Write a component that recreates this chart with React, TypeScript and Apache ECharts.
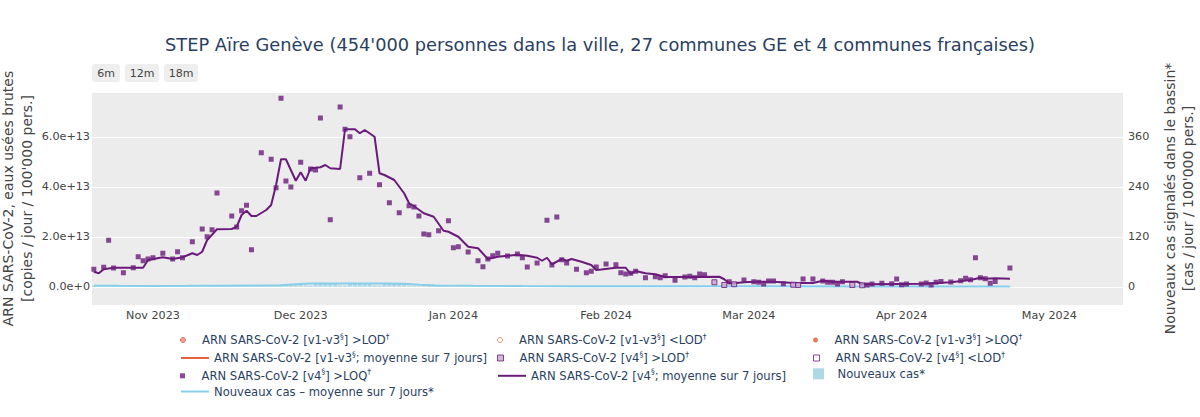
import React, { useEffect, useRef } from 'react';
import * as echarts from 'echarts';

const FONT = 'Verdana, "DejaVu Sans", sans-serif';
const TXT = '#2a3f5f';
const TICK_TXT = '#444';

const TITLE = "STEP Aïre Genève (454'000 personnes dans la ville, 27 communes GE et 4 communes françaises)";
const LEFT_AXIS_TITLE = ['ARN SARS-CoV-2, eaux usées brutes', "[copies / jour / 100'000 pers.]"];
const RIGHT_AXIS_TITLE = ['Nouveaux cas signalés dans le bassin*', "[cas / jour / 100'000 pers.]"];
const RANGE_BUTTONS = ['6m', '12m', '18m'];
const MONTH_NAMES = ['Jan', 'Feb', 'Mar', 'Apr', 'May', 'Jun', 'Jul', 'Aug', 'Sep', 'Oct', 'Nov', 'Dec'];
const MONTH_TICKS = ['2023-11-01', '2023-12-01', '2024-01-01', '2024-02-01', '2024-03-01', '2024-04-01', '2024-05-01'];
const RIGHT_TICKS = [0, 120, 240, 360];
const X_MIN = '2023-10-19T15:00:00';
const X_MAX = '2024-05-15T23:00:00';

// Series names
const N_V13_LOD = 'ARN SARS-CoV-2 [v1-v3§] >LOD†';
const N_V13_BLOD = 'ARN SARS-CoV-2 [v1-v3§] <LOD†';
const N_V13_LOQ = 'ARN SARS-CoV-2 [v1-v3§] >LOQ†';
const N_V13_MEAN = 'ARN SARS-CoV-2 [v1-v3§; moyenne sur 7 jours]';
const N_V4_LOD = 'ARN SARS-CoV-2 [v4§] >LOD†';
const N_V4_BLOD = 'ARN SARS-CoV-2 [v4§] <LOD†';
const N_V4_LOQ = 'ARN SARS-CoV-2 [v4§] >LOQ†';
const N_V4_MEAN = 'ARN SARS-CoV-2 [v4§; moyenne sur 7 jours]';
const N_CASES = 'Nouveaux cas*';
const N_CASES_MEAN = 'Nouveaux cas – moyenne sur 7 jours*';

// v1-v3 series: no data in this period
const v13LodPoints: [number, number][] = [];
const v13BelowLodPoints: [number, number][] = [];
const v13LoqPoints: [number, number][] = [];
const v13MeanPoints: [number, number][] = [];
const v4BelowLodPoints: [number, number][] = [];

// v4 >LOQ samples
const v4LoqDates = [
  '2023-10-20', '2023-10-22', '2023-10-23', '2023-10-24', '2023-10-26', '2023-10-28', '2023-10-29', '2023-10-30', '2023-10-31',
  '2023-11-01', '2023-11-03', '2023-11-05', '2023-11-06', '2023-11-07', '2023-11-09', '2023-11-11', '2023-11-12', '2023-11-13',
  '2023-11-14', '2023-11-17', '2023-11-18', '2023-11-19', '2023-11-20', '2023-11-21', '2023-11-23', '2023-11-25', '2023-11-26',
  '2023-11-27', '2023-11-28', '2023-11-29', '2023-12-01', '2023-12-03', '2023-12-04', '2023-12-05', '2023-12-07', '2023-12-09',
  '2023-12-10', '2023-12-11', '2023-12-13', '2023-12-15', '2023-12-17', '2023-12-19', '2023-12-21', '2023-12-23', '2023-12-24',
  '2023-12-25', '2023-12-26', '2023-12-27', '2023-12-29', '2023-12-31', '2024-01-01', '2024-01-02', '2024-01-04', '2024-01-06',
  '2024-01-07', '2024-01-08', '2024-01-09', '2024-01-10', '2024-01-12', '2024-01-14', '2024-01-15', '2024-01-16', '2024-01-18',
  '2024-01-20', '2024-01-21', '2024-01-22', '2024-01-23', '2024-01-24', '2024-01-26', '2024-01-28', '2024-01-29', '2024-01-30',
  '2024-02-01', '2024-02-03', '2024-02-04', '2024-02-05', '2024-02-06', '2024-02-07', '2024-02-09', '2024-02-11', '2024-02-12',
  '2024-02-13', '2024-02-15', '2024-02-17', '2024-02-18', '2024-02-19', '2024-02-20', '2024-02-21', '2024-02-26', '2024-02-29',
  '2024-03-02', '2024-03-03', '2024-03-04', '2024-03-05', '2024-03-06', '2024-03-08', '2024-03-12', '2024-03-14', '2024-03-16',
  '2024-03-17', '2024-03-18', '2024-03-19', '2024-03-20', '2024-03-25', '2024-03-26', '2024-03-28', '2024-03-30', '2024-03-31',
  '2024-04-01', '2024-04-02', '2024-04-05', '2024-04-06', '2024-04-07', '2024-04-08', '2024-04-09', '2024-04-11', '2024-04-13',
  '2024-04-14', '2024-04-15', '2024-04-16', '2024-04-17', '2024-04-18', '2024-04-19', '2024-04-20', '2024-04-23',
];
const v4LoqValues = [
  7.0e12, 7.8e12, 1.86e13, 7.5e12, 5.6e12, 7.6e12, 1.2e13, 1.04e13, 1.11e13,
  1.16e13, 1.34e13, 1.11e13, 1.4e13, 1.16e13, 1.8e13, 2.31e13, 2.0e13, 2.28e13,
  3.75e13, 2.83e13, 2.39e13, 3.04e13, 3.26e13, 1.48e13, 5.36e13, 5.1e13, 3.96e13,
  7.54e13, 4.23e13, 3.99e13, 4.98e13, 4.71e13, 4.67e13, 6.75e13, 2.68e13, 7.19e13,
  6.3e13, 6.0e13, 4.36e13, 4.54e13, 4.08e13, 3.36e13, 2.96e13, 3.24e13, 3.19e13,
  2.83e13, 2.11e13, 2.08e13, 2.24e13, 2.64e13, 1.56e13, 1.6e13, 1.39e13, 1.04e13,
  8.0e12, 1.11e13, 1.24e13, 1.34e13, 1.23e13, 1.31e13, 1.16e13, 7.9e12, 9.5e12,
  2.66e13, 8.7e12, 2.79e13, 1.08e13, 9.5e12, 7.0e12, 5.6e12, 6.2e12, 7.9e12,
  9.1e12, 8.8e12, 5.6e12, 5.1e12, 5.4e12, 6.2e12, 3.6e12, 4.0e12, 3.6e12,
  4.4e12, 2.6e12, 3.9e12, 4.2e12, 3.6e12, 5.1e12, 4.8e12, 2.0e12, 2.7e12,
  2.0e12, 1.8e12, 1.1e12, 2.3e12, 2.3e12, 1.2e12, 3.1e12, 3.1e12, 2.3e12,
  1.8e12, 1.8e12, 1.1e12, 2.0e12, 7e11, 1.1e12, 1.4e12, 1.2e12, 3.1e12,
  8e11, 1.1e12, 1.1e12, 1.5e12, 7e11, 1.8e12, 2.1e12, 1.9e12, 2.4e12,
  3.4e12, 2.8e12, 1.16e13, 3.6e12, 3.2e12, 1.4e12, 2.1e12, 7.5e12,
];

// v4 >LOD samples
const v4LodDates = ['2024-02-23', '2024-02-25', '2024-02-27', '2024-03-10', '2024-03-11', '2024-03-22', '2024-03-24'];
const v4LodValues = [1.8e12, 7e11, 1.0e12, 8e11, 7e11, 7e11, 6e11];

// v4 7-day mean
const v4MeanDates = [
  '2023-10-20', '2023-10-21', '2023-10-22', '2023-10-24', '2023-10-30', '2023-10-31', '2023-11-03', '2023-11-05', '2023-11-07',
  '2023-11-09', '2023-11-10', '2023-11-11', '2023-11-12', '2023-11-14', '2023-11-17', '2023-11-18', '2023-11-19', '2023-11-20',
  '2023-11-21', '2023-11-22', '2023-11-24', '2023-11-25', '2023-11-26', '2023-11-27', '2023-11-28', '2023-11-30', '2023-12-01',
  '2023-12-02', '2023-12-03', '2023-12-05', '2023-12-06', '2023-12-07', '2023-12-09', '2023-12-10', '2023-12-12', '2023-12-13',
  '2023-12-14', '2023-12-16', '2023-12-17', '2023-12-18', '2023-12-20', '2023-12-22', '2023-12-23', '2023-12-24', '2023-12-26',
  '2023-12-28', '2023-12-30', '2023-12-31', '2024-01-02', '2024-01-04', '2024-01-06', '2024-01-08', '2024-01-10', '2024-01-12',
  '2024-01-14', '2024-01-16', '2024-01-18', '2024-01-19', '2024-01-20', '2024-01-21', '2024-01-23', '2024-01-24', '2024-01-25',
  '2024-01-27', '2024-01-29', '2024-01-30', '2024-01-31', '2024-02-03', '2024-02-05', '2024-02-06', '2024-02-07', '2024-02-09',
  '2024-02-11', '2024-02-13', '2024-02-15', '2024-02-24', '2024-02-25', '2024-02-26', '2024-02-27', '2024-02-29', '2024-03-02',
  '2024-03-06', '2024-03-10', '2024-03-14', '2024-03-16', '2024-03-18', '2024-03-23', '2024-03-24', '2024-03-25', '2024-03-31',
  '2024-04-05', '2024-04-11', '2024-04-15', '2024-04-17', '2024-04-18', '2024-04-20', '2024-04-23',
];
const v4MeanValues = [
  6.0e12, 5.4e12, 7.0e12, 7.6e12, 7.6e12, 1.07e13, 1.18e13, 1.11e13, 1.18e13,
  1.34e13, 1.27e13, 1.4e13, 1.87e13, 2.3e13, 2.31e13, 2.4e13, 2.87e13, 3.04e13,
  2.83e13, 2.83e13, 3.07e13, 3.27e13, 4.07e13, 5.1e13, 5.1e13, 4.24e13, 4.58e13,
  4.24e13, 4.74e13, 4.78e13, 4.87e13, 4.74e13, 4.71e13, 6.3e13, 6.3e13, 6.14e13,
  6.27e13, 6.0e13, 4.54e13, 4.47e13, 4.27e13, 3.74e13, 3.34e13, 3.22e13, 2.94e13,
  2.8e13, 2.24e13, 2.2e13, 2.0e13, 1.6e13, 1.54e13, 1.11e13, 1.2e13, 1.24e13,
  1.28e13, 1.24e13, 1.16e13, 1.04e13, 1.16e13, 9.0e12, 1.11e13, 1.04e13, 1.11e13,
  1.0e13, 8.7e12, 6.7e12, 6.9e12, 7.6e12, 7.6e12, 5.1e12, 6.3e12, 5.4e12,
  5.0e12, 3.9e12, 3.9e12, 4.0e12, 3.0e12, 1.4e12, 1.4e12, 1.8e12, 2.0e12,
  2.0e12, 1.5e12, 1.5e12, 2.4e12, 2.0e12, 2.0e12, 1.0e12, 1.0e12, 1.1e12,
  1.2e12, 1.8e12, 2.7e12, 3.6e12, 3.2e12, 3.4e12, 3.2e12,
];

// New cases (daily, from 2023-10-20 to 2024-04-23)
const casesStart = [2023, 9, 20];
const casesValues = [
  2.6, 1.2, 0.8, 3.0, 2.8, 2.4, 2.5,
  2.2, 1.0, 0.7, 2.6, 2.3, 2.0, 2.4,
  2.1, 1.1, 0.8, 2.7, 2.5, 2.3, 2.6,
  2.5, 1.2, 1.0, 3.1, 2.9, 2.7, 2.8,
  3.0, 1.4, 1.1, 3.6, 3.4, 3.2, 3.5,
  3.6, 1.8, 1.5, 4.8, 5.2, 5.8, 6.4,
  7.2, 3.0, 2.6, 8.8, 9.1, 8.6, 8.9,
  8.4, 3.4, 2.9, 9.6, 9.2, 8.8, 8.6,
  8.2, 3.2, 2.8, 9.0, 8.7, 8.4, 8.1,
  7.4, 2.6, 2.1, 1.2, 5.8, 6.2, 5.5,
  4.6, 2.0, 1.3, 0.9, 4.2, 3.6, 3.1,
  2.9, 1.2, 0.9, 3.0, 2.7, 2.4, 2.3,
  2.1, 0.9, 0.7, 2.4, 2.1, 1.9, 1.8,
  1.7, 0.8, 0.6, 2.0, 1.7, 1.5, 1.5,
  1.4, 0.6, 0.5, 1.6, 1.4, 1.3, 1.2,
  1.2, 0.5, 0.4, 1.4, 1.2, 1.1, 1.1,
  1.0, 0.4, 0.4, 1.2, 1.1, 1.0, 0.9,
  0.9, 0.4, 0.3, 1.1, 1.0, 0.9, 0.9,
  0.9, 0.3, 0.3, 1.0, 0.9, 0.8, 0.8,
  0.8, 0.3, 0.3, 1.0, 0.9, 0.8, 0.7,
  0.8, 0.3, 0.2, 0.9, 0.8, 0.8, 0.7,
  0.7, 0.3, 0.2, 0.9, 0.8, 0.7, 0.7,
  0.7, 0.2, 0.2, 0.8, 0.7, 0.7, 0.6,
  0.5, 0.2, 0.2, 0.3, 0.8, 0.7, 0.6,
  0.7, 0.2, 0.2, 0.8, 0.7, 0.6, 0.6,
  0.6, 0.2, 0.2, 0.7, 0.7, 0.6, 0.6,
  0.6, 0.2, 0.2, 0.7, 0.6,
];

// New cases 7-day mean
const casesMeanDates = [
  '2023-10-20', '2023-10-25', '2023-11-01', '2023-11-08', '2023-11-15', '2023-11-22', '2023-11-27', '2023-11-30',
  '2023-12-03', '2023-12-08', '2023-12-13', '2023-12-18', '2023-12-22', '2023-12-25', '2023-12-28', '2024-01-05',
  '2024-01-15', '2024-01-25', '2024-02-05', '2024-02-20', '2024-03-05', '2024-03-20', '2024-04-05', '2024-04-23',
];
const casesMeanValues = [2.4, 1.9, 1.7, 1.9, 2.2, 2.8, 3.6, 5.5, 7.4, 7.8, 7.6, 7.3, 6.8, 4.6, 2.8, 2.2, 1.6, 1.2, 1.0, 0.8, 0.7, 0.6, 0.6, 0.5];

const COLORS = {
  v4: '#6a1b7a',
  v4Lod: '#c9a0d4',
  v13Lod: '#f08a80',
  v13LodBorder: '#d9534f',
  v13BLod: '#e8743b',
  v13Loq: '#e4572e',
  v13Mean: '#e8603c',
  cases: '#add8e6',
  casesMean: '#87ceeb',
  plotBg: '#ececec',
};

const SQUARE = 'path://M0 0H10V10H0Z';
const ROW_CENTERS = [340, 358, 375.8, 393.5];
const COL_LEFT = [180, 497, 813];

function ts(d: string): number {
  return new Date(d.length > 10 ? d : `${d}T00:00:00`).getTime();
}

function pairs(dates: string[], values: number[]) {
  return dates.map((d, i) => [ts(d), values[i]]);
}

function supFormatter(name: string) {
  return name
    .split(/([§†])/)
    .filter((s) => s.length > 0)
    .map((s) => (s === '§' || s === '†' ? `{s|${s}}` : `{t|${s}}`))
    .join('');
}

const RICH = {
  t: { fontSize: 11.6, lineHeight: 16, color: TXT, fontFamily: FONT },
  s: { fontSize: 7.5, lineHeight: 8, verticalAlign: 'top', color: TXT, fontFamily: FONT },
};

function legendEntry(name: string, col: number, row: number, itemHeight: number, icon?: string, itemStyle?: any) {
  const item: any = { name };
  if (icon) item.icon = icon;
  if (itemStyle) item.itemStyle = itemStyle;
  return {
    show: true,
    orient: 'horizontal',
    left: COL_LEFT[col],
    top: ROW_CENTERS[row] - 8,
    padding: 0,
    itemGap: 0,
    itemWidth: 28,
    itemHeight,
    data: [item],
    formatter: supFormatter,
    textStyle: { color: TXT, fontSize: 11.6, fontFamily: FONT, rich: RICH },
  };
}

const LINE_ICON_STYLE = { color: 'rgba(0,0,0,0)', borderWidth: 0, opacity: 0 };

export default function App() {
  const ref = useRef<HTMLDivElement>(null);

  useEffect(() => {
    document.body.style.margin = '0';
    if (!ref.current) return;
    const chart = echarts.init(ref.current, null, { renderer: 'svg' });

    const casesData = casesValues.map((v, i) => [
      new Date(casesStart[0], casesStart[1], casesStart[2] + i).getTime(),
      v,
    ]);

    const buttonLayout = [
      { x: 92, w: 28 },
      { x: 125, w: 34 },
      { x: 164, w: 34 },
    ];

    const option: any = {
      animation: false,
      backgroundColor: '#ffffff',
      textStyle: { fontFamily: FONT },
      title: {
        text: TITLE,
        left: 'center',
        top: 35,
        padding: 0,
        textStyle: { fontSize: 17.8, fontWeight: 'normal', color: TXT, fontFamily: FONT },
      },
      grid: {
        left: 92,
        right: 77,
        top: 92,
        bottom: 112,
        show: true,
        backgroundColor: COLORS.plotBg,
        borderWidth: 0,
        containLabel: false,
        outerBoundsMode: 'none',
      },
      graphic: RANGE_BUTTONS.map((label, i) => ({
        type: 'group',
        left: buttonLayout[i].x,
        top: 64,
        children: [
          {
            type: 'rect',
            shape: { x: 0, y: 0, width: buttonLayout[i].w, height: 18, r: 3 },
            style: { fill: '#eeeeee' },
          },
          {
            type: 'text',
            x: buttonLayout[i].w / 2,
            y: 9,
            style: {
              text: label,
              fill: TICK_TXT,
              font: `11px ${FONT}`,
              textAlign: 'center',
              textVerticalAlign: 'middle',
            },
          },
        ],
      })),
      legend: [
        legendEntry(N_V13_LOD, 0, 0, 5, 'circle', { color: COLORS.v13Lod, borderColor: COLORS.v13LodBorder, borderWidth: 1 }),
        legendEntry(N_V13_MEAN, 0, 1, 2, undefined, LINE_ICON_STYLE),
        legendEntry(N_V4_LOQ, 0, 2, 5, SQUARE, { color: COLORS.v4 }),
        legendEntry(N_CASES_MEAN, 0, 3, 2, undefined, LINE_ICON_STYLE),
        legendEntry(N_V13_BLOD, 1, 0, 5, 'circle', { color: '#ffffff', borderColor: COLORS.v13BLod, borderWidth: 1 }),
        legendEntry(N_V4_LOD, 1, 1, 6, SQUARE, { color: COLORS.v4Lod, borderColor: COLORS.v4, borderWidth: 1 }),
        legendEntry(N_V4_MEAN, 1, 2, 2, undefined, LINE_ICON_STYLE),
        legendEntry(N_V13_LOQ, 2, 0, 5, 'circle', { color: COLORS.v13Loq }),
        legendEntry(N_V4_BLOD, 2, 1, 6, SQUARE, { color: '#ffffff', borderColor: COLORS.v4, borderWidth: 1 }),
        legendEntry(N_CASES, 2, 2, 11, SQUARE, { color: COLORS.cases }),
      ],
      xAxis: {
        type: 'value',
        min: ts(X_MIN),
        max: ts(X_MAX),
        axisLine: { show: false },
        axisTick: { show: false },
        splitLine: { show: false },
        axisLabel: {
          customValues: MONTH_TICKS.map(ts),
          formatter: (v: number) => {
            const d = new Date(v);
            return `${MONTH_NAMES[d.getMonth()]} ${d.getFullYear()}`;
          },
          margin: 5,
          fontSize: 11.2,
          color: TICK_TXT,
          fontFamily: FONT,
          hideOverlap: false,
        },
      },
      yAxis: [
        {
          type: 'value',
          position: 'left',
          min: -7.3e12,
          max: 7.79e13,
          splitNumber: 4,
          axisLine: { show: false },
          axisTick: { show: false },
          splitLine: { show: true, lineStyle: { color: '#ffffff', width: 1 } },
          axisLabel: {
            formatter: (v: number) => v.toExponential(1),
            showMinLabel: false,
            showMaxLabel: false,
            margin: 2,
            fontSize: 11.2,
            color: TICK_TXT,
            fontFamily: FONT,
          },
          name: LEFT_AXIS_TITLE.join('\n'),
          nameLocation: 'middle',
          nameRotate: 90,
          nameGap: 56,
          nameMoveOverlap: false,
          nameTextStyle: { fontSize: 14, lineHeight: 19, color: TICK_TXT, fontFamily: FONT },
        },
        {
          type: 'value',
          position: 'right',
          min: -44,
          max: 467,
          axisLine: { show: false },
          axisTick: { show: false },
          splitLine: { show: false },
          axisLabel: {
            customValues: RIGHT_TICKS,
            margin: 5,
            fontSize: 11.2,
            color: TICK_TXT,
            fontFamily: FONT,
          },
          name: RIGHT_AXIS_TITLE.join('\n'),
          nameLocation: 'middle',
          nameRotate: 90,
          nameGap: 38,
          nameMoveOverlap: false,
          nameTextStyle: { fontSize: 14, lineHeight: 18, color: TICK_TXT, fontFamily: FONT },
        },
      ],
      series: [
        {
          name: N_CASES,
          type: 'bar',
          yAxisIndex: 1,
          data: casesData,
          barWidth: 4,
          itemStyle: { color: COLORS.cases },
          z: 1,
        },
        {
          name: N_CASES_MEAN,
          type: 'line',
          yAxisIndex: 1,
          data: pairs(casesMeanDates, casesMeanValues),
          symbol: 'none',
          lineStyle: { color: COLORS.casesMean, width: 2 },
          itemStyle: { color: COLORS.casesMean },
          z: 2,
        },
        {
          name: N_V13_MEAN,
          type: 'line',
          data: v13MeanPoints,
          symbol: 'none',
          lineStyle: { color: COLORS.v13Mean, width: 2 },
          itemStyle: { color: COLORS.v13Mean },
        },
        {
          name: N_V13_LOD,
          type: 'scatter',
          data: v13LodPoints,
          symbol: 'circle',
          symbolSize: 6,
          itemStyle: { color: COLORS.v13Lod, borderColor: COLORS.v13LodBorder, borderWidth: 1 },
        },
        {
          name: N_V13_BLOD,
          type: 'scatter',
          data: v13BelowLodPoints,
          symbol: 'circle',
          symbolSize: 6,
          itemStyle: { color: '#ffffff', borderColor: COLORS.v13BLod, borderWidth: 1 },
        },
        {
          name: N_V13_LOQ,
          type: 'scatter',
          data: v13LoqPoints,
          symbol: 'circle',
          symbolSize: 6,
          itemStyle: { color: COLORS.v13Loq },
        },
        {
          name: N_V4_MEAN,
          type: 'line',
          data: pairs(v4MeanDates, v4MeanValues),
          symbol: 'none',
          lineStyle: { color: COLORS.v4, width: 2 },
          itemStyle: { color: COLORS.v4 },
          z: 3,
        },
        {
          name: N_V4_BLOD,
          type: 'scatter',
          data: v4BelowLodPoints,
          symbol: 'rect',
          symbolSize: 5,
          itemStyle: { color: '#ffffff', borderColor: COLORS.v4, borderWidth: 1 },
        },
        {
          name: N_V4_LOD,
          type: 'scatter',
          data: pairs(v4LodDates, v4LodValues),
          symbol: 'rect',
          symbolSize: 5,
          itemStyle: { color: COLORS.v4Lod, borderColor: COLORS.v4, borderWidth: 1 },
          z: 4,
        },
        {
          name: N_V4_LOQ,
          type: 'scatter',
          data: pairs(v4LoqDates, v4LoqValues),
          symbol: 'rect',
          symbolSize: 5,
          itemStyle: { color: COLORS.v4 },
          z: 4,
        },
      ],
    };

    chart.setOption(option);
    return () => chart.dispose();
  }, []);

  return <div ref={ref} style={{ width: 1200, height: 417 }} />;
}
